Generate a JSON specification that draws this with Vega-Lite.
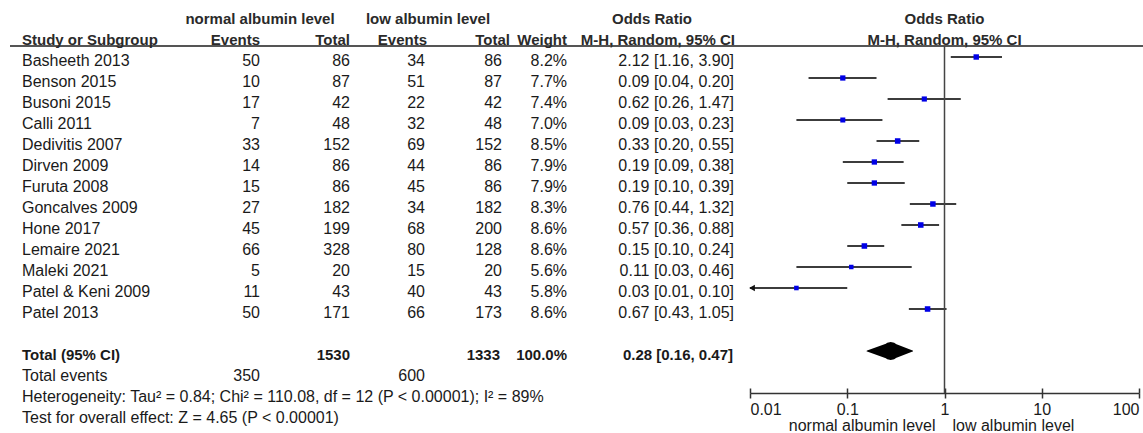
{
  "$schema": "https://vega.github.io/schema/vega-lite/v6.json",
  "width": 1143,
  "height": 433,
  "autosize": "none",
  "padding": 0,
  "background": "white",
  "config": {
    "view": {"stroke": null},
    "text": {"font": "Liberation Sans", "fontSize": 16, "color": "#1a1a1a", "baseline": "middle", "dy": 4}
  },
  "datasets": {
    "studies": [
      {"study": "Basheeth 2013", "e1": 50, "n1": 86, "e2": 34, "n2": 86, "w": 8.2, "or": 2.12, "lo": 1.16, "hi": 3.90},
      {"study": "Benson 2015", "e1": 10, "n1": 87, "e2": 51, "n2": 87, "w": 7.7, "or": 0.09, "lo": 0.04, "hi": 0.20},
      {"study": "Busoni 2015", "e1": 17, "n1": 42, "e2": 22, "n2": 42, "w": 7.4, "or": 0.62, "lo": 0.26, "hi": 1.47},
      {"study": "Calli 2011", "e1": 7, "n1": 48, "e2": 32, "n2": 48, "w": 7.0, "or": 0.09, "lo": 0.03, "hi": 0.23},
      {"study": "Dedivitis 2007", "e1": 33, "n1": 152, "e2": 69, "n2": 152, "w": 8.5, "or": 0.33, "lo": 0.20, "hi": 0.55},
      {"study": "Dirven 2009", "e1": 14, "n1": 86, "e2": 44, "n2": 86, "w": 7.9, "or": 0.19, "lo": 0.09, "hi": 0.38},
      {"study": "Furuta 2008", "e1": 15, "n1": 86, "e2": 45, "n2": 86, "w": 7.9, "or": 0.19, "lo": 0.10, "hi": 0.39},
      {"study": "Goncalves 2009", "e1": 27, "n1": 182, "e2": 34, "n2": 182, "w": 8.3, "or": 0.76, "lo": 0.44, "hi": 1.32},
      {"study": "Hone 2017", "e1": 45, "n1": 199, "e2": 68, "n2": 200, "w": 8.6, "or": 0.57, "lo": 0.36, "hi": 0.88},
      {"study": "Lemaire 2021", "e1": 66, "n1": 328, "e2": 80, "n2": 128, "w": 8.6, "or": 0.15, "lo": 0.10, "hi": 0.24},
      {"study": "Maleki 2021", "e1": 5, "n1": 20, "e2": 15, "n2": 20, "w": 5.6, "or": 0.11, "lo": 0.03, "hi": 0.46},
      {"study": "Patel & Keni 2009", "e1": 11, "n1": 43, "e2": 40, "n2": 43, "w": 5.8, "or": 0.03, "lo": 0.01, "hi": 0.10},
      {"study": "Patel 2013", "e1": 50, "n1": 171, "e2": 66, "n2": 173, "w": 8.6, "or": 0.67, "lo": 0.43, "hi": 1.05}
    ],
    "total": [
      {"label": "Total (95% CI)", "n1": 1530, "n2": 1333, "w": 100.0, "or": 0.28, "lo": 0.16, "hi": 0.47, "ev1": 350, "ev2": 600}
    ]
  },
  "layer": [
    {
      "layer": [
        {"data": {"name": "total"}, "mark": {"type": "rule", "yOffset": 10, "strokeWidth": 2, "color": "#555"},
         "encoding": {"x": {"datum": 10, "type": "quantitative", "scale": {"domain": [0, 1143], "range": [0, 1143], "nice": false, "zero": false}, "axis": null},
                      "x2": {"datum": 1143},
                      "y": {"datum": "h2", "type": "nominal", "scale": {"type": "point", "domain": ["h1","h2","Basheeth 2013","Benson 2015","Busoni 2015","Calli 2011","Dedivitis 2007","Dirven 2009","Furuta 2008","Goncalves 2009","Hone 2017","Lemaire 2021","Maleki 2021","Patel & Keni 2009","Patel 2013","gap","Total (95% CI)","Total events","Heterogeneity","Test"], "range": [15, 414], "padding": 0}, "axis": null}}},
        {"data": {"name": "total"}, "mark": {"type": "text", "align": "center", "fontWeight": "bold", "fontSize": 15, "color": "#2a2a2a", "text": "normal albumin level"},
         "encoding": {"x": {"datum": 260, "type": "quantitative"}, "y": {"datum": "h1", "type": "nominal"}}},
        {"data": {"name": "total"}, "mark": {"type": "text", "align": "center", "fontWeight": "bold", "fontSize": 15, "color": "#2a2a2a", "text": "low albumin level"},
         "encoding": {"x": {"datum": 428, "type": "quantitative"}, "y": {"datum": "h1", "type": "nominal"}}},
        {"data": {"name": "total"}, "mark": {"type": "text", "align": "center", "fontWeight": "bold", "fontSize": 15, "color": "#2a2a2a", "text": "Odds Ratio"},
         "encoding": {"x": {"datum": 652, "type": "quantitative"}, "y": {"datum": "h1", "type": "nominal"}}},
        {"data": {"name": "total"}, "mark": {"type": "text", "align": "left", "fontWeight": "bold", "fontSize": 15, "color": "#2a2a2a", "text": "Study or Subgroup"},
         "encoding": {"x": {"datum": 22, "type": "quantitative"}, "y": {"datum": "h2", "type": "nominal"}}},
        {"data": {"name": "total"}, "mark": {"type": "text", "align": "right", "fontWeight": "bold", "fontSize": 15, "color": "#2a2a2a", "text": "Events"},
         "encoding": {"x": {"datum": 260, "type": "quantitative"}, "y": {"datum": "h2", "type": "nominal"}}},
        {"data": {"name": "total"}, "mark": {"type": "text", "align": "right", "fontWeight": "bold", "fontSize": 15, "color": "#2a2a2a", "text": "Total"},
         "encoding": {"x": {"datum": 350, "type": "quantitative"}, "y": {"datum": "h2", "type": "nominal"}}},
        {"data": {"name": "total"}, "mark": {"type": "text", "align": "right", "fontWeight": "bold", "fontSize": 15, "color": "#2a2a2a", "text": "Events"},
         "encoding": {"x": {"datum": 427, "type": "quantitative"}, "y": {"datum": "h2", "type": "nominal"}}},
        {"data": {"name": "total"}, "mark": {"type": "text", "align": "right", "fontWeight": "bold", "fontSize": 15, "color": "#2a2a2a", "text": "Total"},
         "encoding": {"x": {"datum": 510, "type": "quantitative"}, "y": {"datum": "h2", "type": "nominal"}}},
        {"data": {"name": "total"}, "mark": {"type": "text", "align": "right", "fontWeight": "bold", "fontSize": 15, "color": "#2a2a2a", "text": "Weight"},
         "encoding": {"x": {"datum": 567, "type": "quantitative"}, "y": {"datum": "h2", "type": "nominal"}}},
        {"data": {"name": "total"}, "mark": {"type": "text", "align": "right", "fontWeight": "bold", "fontSize": 15, "color": "#2a2a2a", "text": "M-H, Random, 95% CI"},
         "encoding": {"x": {"datum": 735, "type": "quantitative"}, "y": {"datum": "h2", "type": "nominal"}}},

        {"data": {"name": "studies"}, "mark": {"type": "text", "align": "left"},
         "encoding": {"x": {"datum": 22, "type": "quantitative"}, "y": {"field": "study", "type": "nominal"}, "text": {"field": "study"}}},
        {"data": {"name": "studies"}, "mark": {"type": "text", "align": "right"},
         "encoding": {"x": {"datum": 260, "type": "quantitative"}, "y": {"field": "study", "type": "nominal"}, "text": {"field": "e1", "type": "quantitative", "format": "d"}}},
        {"data": {"name": "studies"}, "mark": {"type": "text", "align": "right"},
         "encoding": {"x": {"datum": 350, "type": "quantitative"}, "y": {"field": "study", "type": "nominal"}, "text": {"field": "n1", "type": "quantitative", "format": "d"}}},
        {"data": {"name": "studies"}, "mark": {"type": "text", "align": "right"},
         "encoding": {"x": {"datum": 425, "type": "quantitative"}, "y": {"field": "study", "type": "nominal"}, "text": {"field": "e2", "type": "quantitative", "format": "d"}}},
        {"data": {"name": "studies"}, "mark": {"type": "text", "align": "right"},
         "encoding": {"x": {"datum": 502, "type": "quantitative"}, "y": {"field": "study", "type": "nominal"}, "text": {"field": "n2", "type": "quantitative", "format": "d"}}},
        {"data": {"name": "studies"}, "transform": [{"calculate": "format(datum.w, '.1f') + '%'", "as": "wt"}], "mark": {"type": "text", "align": "right"},
         "encoding": {"x": {"datum": 567, "type": "quantitative"}, "y": {"field": "study", "type": "nominal"}, "text": {"field": "wt"}}},
        {"data": {"name": "studies"}, "transform": [{"calculate": "format(datum.or, '.2f') + ' [' + format(datum.lo, '.2f') + ', ' + format(datum.hi, '.2f') + ']'", "as": "ci"}], "mark": {"type": "text", "align": "right"},
         "encoding": {"x": {"datum": 734, "type": "quantitative"}, "y": {"field": "study", "type": "nominal"}, "text": {"field": "ci"}}},

        {"data": {"name": "total"}, "mark": {"type": "text", "align": "left", "fontWeight": "bold", "fontSize": 15},
         "encoding": {"x": {"datum": 22, "type": "quantitative"}, "y": {"field": "label", "type": "nominal"}, "text": {"field": "label"}}},
        {"data": {"name": "total"}, "mark": {"type": "text", "align": "right", "fontWeight": "bold", "fontSize": 15},
         "encoding": {"x": {"datum": 350, "type": "quantitative"}, "y": {"field": "label", "type": "nominal"}, "text": {"field": "n1", "type": "quantitative", "format": "d"}}},
        {"data": {"name": "total"}, "mark": {"type": "text", "align": "right", "fontWeight": "bold", "fontSize": 15},
         "encoding": {"x": {"datum": 500, "type": "quantitative"}, "y": {"field": "label", "type": "nominal"}, "text": {"field": "n2", "type": "quantitative", "format": "d"}}},
        {"data": {"name": "total"}, "transform": [{"calculate": "format(datum.w, '.1f') + '%'", "as": "wt"}], "mark": {"type": "text", "align": "right", "fontWeight": "bold", "fontSize": 15},
         "encoding": {"x": {"datum": 567, "type": "quantitative"}, "y": {"field": "label", "type": "nominal"}, "text": {"field": "wt"}}},
        {"data": {"name": "total"}, "transform": [{"calculate": "format(datum.or, '.2f') + ' [' + format(datum.lo, '.2f') + ', ' + format(datum.hi, '.2f') + ']'", "as": "ci"}], "mark": {"type": "text", "align": "right", "fontWeight": "bold", "fontSize": 15},
         "encoding": {"x": {"datum": 733, "type": "quantitative"}, "y": {"field": "label", "type": "nominal"}, "text": {"field": "ci"}}},

        {"data": {"name": "total"}, "mark": {"type": "text", "align": "left", "text": "Total events"},
         "encoding": {"x": {"datum": 22, "type": "quantitative"}, "y": {"datum": "Total events", "type": "nominal"}}},
        {"data": {"name": "total"}, "mark": {"type": "text", "align": "right"},
         "encoding": {"x": {"datum": 260, "type": "quantitative"}, "y": {"datum": "Total events", "type": "nominal"}, "text": {"field": "ev1", "type": "quantitative", "format": "d"}}},
        {"data": {"name": "total"}, "mark": {"type": "text", "align": "right"},
         "encoding": {"x": {"datum": 425, "type": "quantitative"}, "y": {"datum": "Total events", "type": "nominal"}, "text": {"field": "ev2", "type": "quantitative", "format": "d"}}},
        {"data": {"name": "total"}, "mark": {"type": "text", "align": "left", "text": "Heterogeneity: Tau² = 0.84; Chi² = 110.08, df = 12 (P < 0.00001); I² = 89%"},
         "encoding": {"x": {"datum": 22, "type": "quantitative"}, "y": {"datum": "Heterogeneity", "type": "nominal"}}},
        {"data": {"name": "total"}, "mark": {"type": "text", "align": "left", "text": "Test for overall effect: Z = 4.65 (P < 0.00001)"},
         "encoding": {"x": {"datum": 22, "type": "quantitative"}, "y": {"datum": "Test", "type": "nominal"}}}
      ]
    },
    {
      "layer": [
        {"data": {"name": "studies"}, "mark": {"type": "rule", "color": "#3c3c3c", "strokeWidth": 2},
         "encoding": {
           "x": {"field": "lo", "type": "quantitative", "scale": {"type": "log", "domain": [0.01, 100], "range": [750, 1139], "nice": false},
                 "axis": {"title": null, "orient": "bottom", "offset": -40, "values": [0.01, 0.1, 1, 10, 100], "format": "~g", "grid": false,
                          "domainColor": "#333", "domainWidth": 1.5, "tickColor": "#333", "tickWidth": 1.5, "tickSize": 5,
                          "labelFont": "Liberation Sans", "labelFontSize": 16, "labelColor": "#1a1a1a", "labelPadding": 3, "labelFlush": true, "labelOverlap": false}},
           "x2": {"field": "hi"},
           "y": {"field": "study", "type": "nominal"}}},
        {"data": {"name": "studies"}, "mark": {"type": "point", "shape": "square", "filled": true, "color": "#0000e6", "opacity": 1},
         "encoding": {
           "x": {"field": "or", "type": "quantitative", "title": null},
           "y": {"field": "study", "type": "nominal"},
           "size": {"field": "w", "type": "quantitative", "scale": {"domain": [0, 10], "range": [0, 36]}, "legend": null}}},
        {"data": {"name": "studies"}, "transform": [{"filter": "datum.lo <= 0.01"}], "mark": {"type": "point", "shape": "triangle-left", "filled": true, "color": "#111", "opacity": 1, "size": 45, "xOffset": 2},
         "encoding": {
           "x": {"field": "lo", "type": "quantitative", "title": null},
           "y": {"field": "study", "type": "nominal"}}},
        {"data": {"name": "total"}, "transform": [{"fold": ["lo", "or", "hi"], "as": ["k", "v"]}], "mark": {"type": "trail", "color": "#000"},
         "encoding": {
           "x": {"field": "v", "type": "quantitative", "title": null},
           "y": {"datum": "Total (95% CI)", "type": "nominal"},
           "order": {"field": "v", "type": "quantitative"},
           "size": {"condition": {"test": "datum.k === 'or'", "value": 18}, "value": 0}}},
        {"data": {"name": "total"}, "mark": {"type": "text", "align": "center", "fontWeight": "bold", "fontSize": 15, "color": "#2a2a2a", "text": "Odds Ratio"},
         "encoding": {"x": {"datum": 1, "type": "quantitative"}, "y": {"datum": "h1", "type": "nominal"}}},
        {"data": {"name": "total"}, "mark": {"type": "text", "align": "center", "fontWeight": "bold", "fontSize": 15, "color": "#2a2a2a", "text": "M-H, Random, 95% CI"},
         "encoding": {"x": {"datum": 1, "type": "quantitative"}, "y": {"datum": "h2", "type": "nominal"}}},
        {"data": {"name": "total"}, "mark": {"type": "text", "align": "right", "dx": -9, "dy": 12, "text": "normal albumin level"},
         "encoding": {"x": {"datum": 1, "type": "quantitative"}, "y": {"datum": "Test", "type": "nominal"}}},
        {"data": {"name": "total"}, "mark": {"type": "text", "align": "left", "dx": 8, "dy": 12, "text": "low albumin level"},
         "encoding": {"x": {"datum": 1, "type": "quantitative"}, "y": {"datum": "Test", "type": "nominal"}}}
      ]
    },
    {
      "data": {"name": "total"},
      "mark": {"type": "rule", "color": "#444", "strokeWidth": 1.5, "yOffset": 10},
      "encoding": {
        "x": {"datum": 1, "type": "quantitative", "scale": {"type": "log", "domain": [0.01, 100], "range": [750, 1139], "nice": false},
              "axis": {"title": null, "orient": "bottom", "offset": -40, "values": [0.01, 0.1, 1, 10, 100], "labels": false, "domain": false, "grid": false,
                       "tickColor": "#333", "tickWidth": 1.5, "tickSize": -5}},
        "y": {"datum": "h2", "type": "nominal"},
        "y2": {"datum": "Heterogeneity"}
      }
    }
  ],
  "resolve": {"scale": {"x": "independent"}}
}
